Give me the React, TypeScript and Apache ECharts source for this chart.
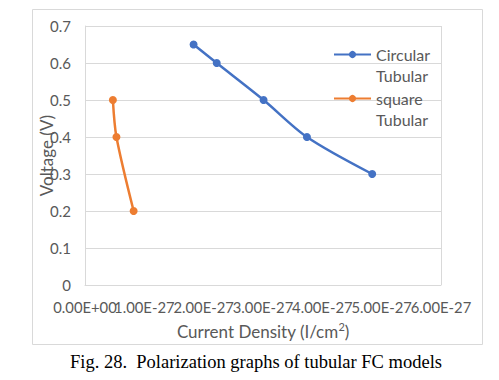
import React, { useEffect, useRef } from "react";
import * as echarts from "echarts";

const seriesNames = ["Circular Tubular", "square Tubular"];
const circularX = [1.83e-27, 2.22e-27, 3.01e-27, 3.74e-27, 4.84e-27];
const circularY = [0.65, 0.6, 0.5, 0.4, 0.3];
const squareX = [0.47e-27, 0.53e-27, 0.82e-27];
const squareY = [0.5, 0.4, 0.2];
const xTickLabels = ["0.00E+00", "1.00E-27", "2.00E-27", "3.00E-27", "4.00E-27", "5.00E-27", "6.00E-27"];
const xMin = 0;
const xMax = 6e-27;
const xStep = 1e-27;
const yMin = 0;
const yMax = 0.7;
const yStep = 0.1;
const caption = "Fig. 28.  Polarization graphs of tubular FC models";

const FONT = "Lato";
const GREY = "#595959";

export default function App() {
  const ref = useRef<HTMLDivElement>(null);
  useEffect(() => {
    if (!ref.current) return;
    const chart = echarts.init(ref.current, undefined, { renderer: "svg" });
    const legendText = {
      fontFamily: FONT,
      fontSize: 16,
      color: GREY,
      lineHeight: 21,
    };
    const legendFmt = (n: string) => " \n" + n.replace(" ", "\n");
    chart.setOption({
      animation: false,
      backgroundColor: "#ffffff",
      grid: { left: 85, right: 58, top: 26, bottom: 95 },
      xAxis: [
        {
          type: "value",
          min: xMin,
          max: xMax,
          interval: xStep,
          name: "Current Density (I/cm{sup|2})",
          nameLocation: "middle",
          nameGap: 36,
          nameMoveOverlap: false,
          nameTextStyle: {
            fontFamily: FONT,
            fontSize: 17,
            color: GREY,
            rich: { sup: { fontFamily: FONT, fontSize: 11, color: GREY, verticalAlign: "top", padding: [0, 0, 9, 0] } },
          },
          axisLine: { show: true, lineStyle: { color: "#d9d9d9" } },
          axisTick: { show: false },
          splitLine: { show: true, lineStyle: { color: "#d9d9d9" } },
          axisLabel: { show: false },
        },
        {
          type: "category",
          position: "bottom",
          data: xTickLabels,
          boundaryGap: false,
          axisLine: { show: false },
          axisTick: { show: false },
          splitLine: { show: false },
          axisLabel: {
            interval: 0,
            fontFamily: FONT,
            fontSize: 14.8,
            color: GREY,
            margin: 14,
            hideOverlap: false,
          },
        },
      ],
      yAxis: {
        type: "value",
        min: yMin,
        max: yMax,
        interval: yStep,
        name: "Voltage (V)",
        nameLocation: "middle",
        nameGap: 30,
        nameMoveOverlap: false,
        nameTextStyle: { fontFamily: FONT, fontSize: 17, color: GREY },
        axisLine: { show: true, lineStyle: { color: "#d9d9d9" } },
        axisTick: { show: false },
        splitLine: { show: true, lineStyle: { color: "#d9d9d9" } },
        axisLabel: {
          formatter: (v: number) => String(Math.round(v * 10) / 10),
          fontFamily: FONT,
          fontSize: 15,
          color: GREY,
          margin: 14,
        },
      },
      legend: [
        {
          data: [seriesNames[0]],
          left: 328,
          top: 18,
          orient: "vertical",
          itemWidth: 37,
          itemHeight: 9,
          formatter: legendFmt,
          textStyle: legendText,
        },
        {
          data: [seriesNames[1]],
          left: 328,
          top: 62,
          orient: "vertical",
          itemWidth: 37,
          itemHeight: 9,
          formatter: legendFmt,
          textStyle: legendText,
        },
      ],
      graphic: [
        {
          type: "rect",
          shape: { x: 32.5, y: 9.5, width: 450, height: 335 },
          style: { fill: "none", stroke: "#d9d9d9", lineWidth: 1 },
          silent: true,
        },
        {
          type: "text",
          x: 256,
          y: 362,
          style: {
            text: caption,
            fontFamily: "Liberation Serif",
            fontSize: 18.5,
            fill: "#000000",
            align: "center",
            verticalAlign: "middle",
          },
        },
      ],
      series: [
        {
          name: seriesNames[0],
          type: "line",
          xAxisIndex: 0,
          smooth: 0.3,
          data: circularX.map((x, i) => [x, circularY[i]]),
          symbol: "circle",
          symbolSize: 8,
          color: "#4472C4",
          lineStyle: { width: 2.5, color: "#4472C4" },
          itemStyle: { color: "#4472C4" },
        },
        {
          name: seriesNames[1],
          type: "line",
          xAxisIndex: 0,
          smooth: 0.3,
          data: squareX.map((x, i) => [x, squareY[i]]),
          symbol: "circle",
          symbolSize: 8,
          color: "#ED7D31",
          lineStyle: { width: 2.5, color: "#ED7D31" },
          itemStyle: { color: "#ED7D31" },
        },
      ],
    });
    return () => chart.dispose();
  }, []);
  return (
    <div
      ref={ref}
      style={{ position: "absolute", left: 0, top: 0, width: 499, height: 380 }}
    />
  );
}
